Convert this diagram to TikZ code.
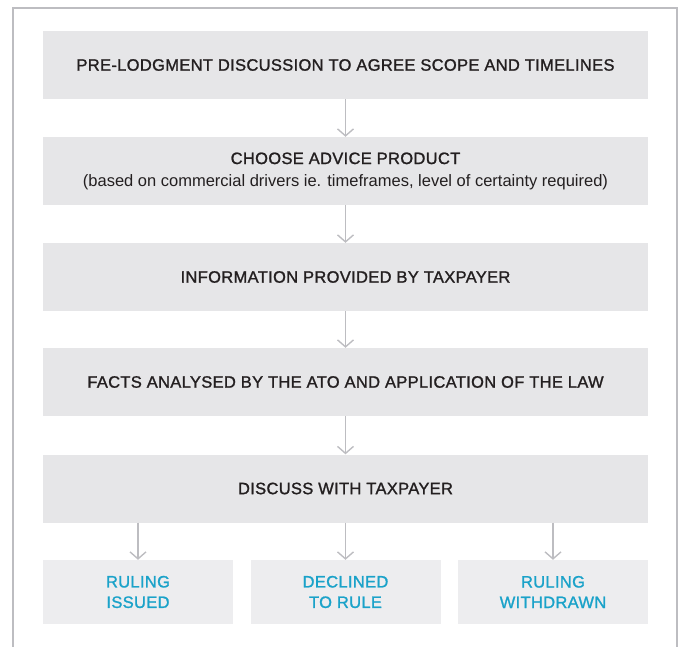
\documentclass[tikz,border=0pt]{standalone}
\usepackage{fontspec}
\setmainfont{Liberation Sans}
\newfontfamily\medfont[FakeBold=1.3,LetterSpace=2]{Liberation Sans}
\newfontfamily\bluefont[FakeBold=1.3,LetterSpace=2]{Liberation Sans}
\usetikzlibrary{arrows.meta}
\definecolor{boxgray}{HTML}{E6E6E8}
\definecolor{boxlight}{HTML}{EDEDEF}
\definecolor{linegray}{HTML}{BDBDC1}
\definecolor{txt}{HTML}{231F20}
\definecolor{blu}{HTML}{1AA2C9}
\newcommand{\subt}[1]{{\normalfont\fontsize{16.5}{22}\selectfont #1}}
\begin{document}
\begin{tikzpicture}[x=1pt,y=-1pt,
  mainbox/.style={draw=none,fill=boxgray,minimum width=605pt,minimum height=68pt,inner sep=0pt,align=center,text=txt,font=\medfont\fontsize{16.5}{22}\selectfont},
  endbox/.style={draw=none,fill=boxlight,minimum width=190pt,minimum height=64pt,inner sep=0pt,align=center,text=blu,font=\bluefont\fontsize{16.5}{20.5}\selectfont},
  flow/.style={draw=linegray,line width=1.4pt,-{Straight Barb[length=7pt,width=16pt,line width=1.4pt]}},
  frame/.style={draw=linegray,line width=2pt}]
\useasboundingbox (0,0) rectangle (681,647);
\draw[frame] (13,648) -- (13,8) -- (677,8) -- (677,648);
\node[mainbox] (b1) at (345.5,65) {PRE-LODGMENT DISCUSSION TO AGREE SCOPE AND TIMELINES};
\node[mainbox] (b2) at (345.5,171) {CHOOSE ADVICE PRODUCT\\\subt{(based on commercial drivers ie. timeframes, level of certainty required)}};
\node[mainbox] (b3) at (345.5,277) {INFORMATION PROVIDED BY TAXPAYER};
\node[mainbox] (b4) at (345.5,382) {FACTS ANALYSED BY THE ATO AND APPLICATION OF THE LAW};
\node[mainbox] (b5) at (345.5,488.5) {DISCUSS WITH TAXPAYER};
\node[endbox] (r1) at (138,592) {RULING\\ISSUED};
\node[endbox] (r2) at (345.5,592) {DECLINED\\TO RULE};
\node[endbox] (r3) at (553,592) {RULING\\WITHDRAWN};
\draw[flow] (b1.south) -- (b2.north);
\draw[flow] (b2.south) -- (b3.north);
\draw[flow] (b3.south) -- (b4.north);
\draw[flow] (b4.south) -- (b5.north);
\draw[flow] (b5.south -| r1.north) -- (r1.north);
\draw[flow] (b5.south) -- (r2.north);
\draw[flow] (b5.south -| r3.north) -- (r3.north);
\end{tikzpicture}
\end{document}
